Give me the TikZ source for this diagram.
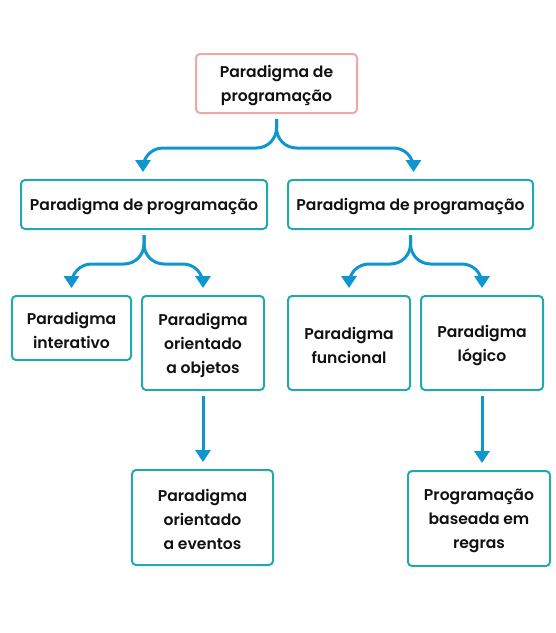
\documentclass[tikz,border=0pt]{standalone}
\usepackage{fontspec}
\setmainfont{Poppins}[UprightFont={* SemiBold}]
\usetikzlibrary{arrows.meta}
\definecolor{teal1}{HTML}{22A9AB}
\definecolor{pink1}{HTML}{EEA8A7}
\definecolor{blue1}{HTML}{0F96CF}
\definecolor{txt}{HTML}{111111}
\tikzset{
  box/.style={draw=teal1, line width=2pt, rounded corners=4pt, align=center,
    font=\fontsize{15.6}{24}\selectfont, text=txt, inner sep=0pt},
  lineone/.style={text height=16.5pt},
  linetwo/.style={text height=40.5pt},
  linethree/.style={text height=64.5pt},
  conn/.style={draw=blue1, line width=3pt, rounded corners=20pt,
    -{Triangle[width=15pt,length=12pt]}},
  vconn/.style={draw=blue1, line width=3pt, -{Triangle[width=15pt,length=12pt]}}
}
\begin{document}
\begin{tikzpicture}[x=1pt,y=-1pt]
\useasboundingbox (0,0) rectangle (556,633);
\node[box, linetwo, draw=pink1, minimum width=161pt, minimum height=59pt] (top) at (276.5,83.5) {Paradigma de\\programação};
\node[box, lineone, minimum width=246pt, minimum height=49pt] (ml) at (144,204.5) {Paradigma de programação};
\node[box, lineone, minimum width=245pt, minimum height=49pt] (mr) at (410.5,204.5) {Paradigma de programação};
\node[box, linetwo, minimum width=119pt, minimum height=64pt] (int) at (71.5,328) {Paradigma\\interativo};
\node[box, linethree, minimum width=122pt, minimum height=94pt] (obj) at (203,343) {Paradigma\\orientado\\a objetos};
\node[box, linetwo, minimum width=122pt, minimum height=94pt] (fun) at (349,343) {Paradigma\\funcional};
\node[box, linetwo, minimum width=122pt, minimum height=94pt] (log) at (482,343) {Paradigma\\lógico};
\node[box, linethree, minimum width=141pt, minimum height=95pt] (evt) at (202.5,517.5) {Paradigma\\orientado\\a eventos};
\node[box, linethree, minimum width=142pt, minimum height=95pt] (reg) at (479,518.5) {Programação\\baseada em\\regras};
% connectors
\draw[conn] ([yshift=-5pt]top.south) -- ++(0,29) -| ([xshift=-1pt,yshift=7pt]ml.north);
\draw[conn] ([yshift=-5pt]top.south) -- ++(0,29) -| ([xshift=3pt,yshift=7pt]mr.north);
\draw[conn] ([yshift=-5pt]ml.south) -- ++(0,29) -| ([yshift=7pt]int.north);
\draw[conn] ([yshift=-5pt]ml.south) -- ++(0,29) -| ([yshift=7pt]obj.north);
\draw[conn] ([yshift=-5pt]mr.south) -- ++(0,29) -| ([yshift=7pt]fun.north);
\draw[conn] ([yshift=-5pt]mr.south) -- ++(0,29) -| ([yshift=7pt]log.north);
\draw[vconn] ([yshift=-5pt]obj.south) -- ([yshift=7pt]obj.south |- evt.north);
\draw[vconn] ([yshift=-5pt]log.south) -- ([yshift=7pt]log.south |- reg.north);
\end{tikzpicture}
\end{document}
